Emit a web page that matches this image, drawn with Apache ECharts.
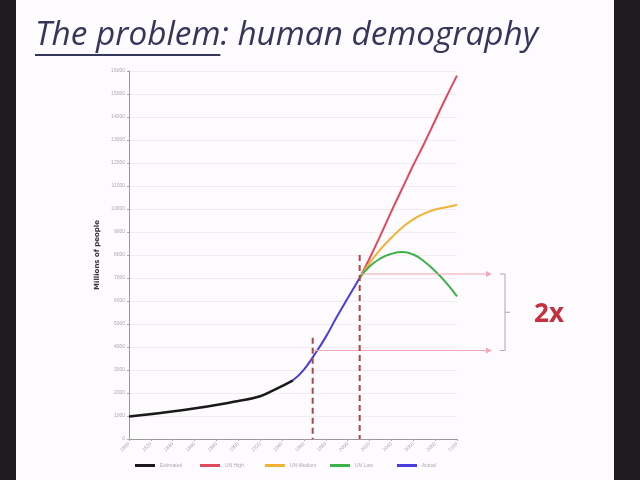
<!DOCTYPE html>
<html><head><meta charset="utf-8">
<script src="https://cdn.jsdelivr.net/npm/echarts@6/dist/echarts.min.js"></script>
<style>html,body{margin:0;padding:0;background:#1e1c1e}#c{width:640px;height:480px}</style>
</head><body><div id="c"></div>
<script>
const titleMain = 'The problem';
const titleRest = ': human demography';
const yAxisName = 'Millions of people';
const legendNames = ['Estimated', 'UN High', 'UN Medium', 'UN Low', 'Actual'];
const estYears = [1800, 1850, 1900, 1920, 1930, 1940, 1950];
const estPop   = [980, 1260, 1650, 1860, 2070, 2300, 2550];
const actYears = [1950, 1960, 1970, 1980, 1990, 2000, 2011];
const actPop   = [2550, 3020, 3690, 4440, 5300, 6120, 7000];
const projYears = [2011, 2020, 2030, 2040, 2050, 2060, 2070, 2080, 2090, 2100];
const highPop = [7000, 7850, 8850, 9900, 10900, 11900, 12850, 13850, 14850, 15800];
const medPop  = [7000, 7650, 8250, 8750, 9200, 9550, 9800, 9980, 10080, 10170];
const lowPop  = [7000, 7500, 7850, 8050, 8130, 8020, 7720, 7300, 6800, 6200];
const markYears = [1968, 2011];
const markPops = [3500, 7000];
const ratioLabel = '2x';

const zip = (xs, ys) => xs.map((x, i) => [x, ys[i]]);
const measure = (txt, font) => { const c = document.createElement('canvas').getContext('2d'); c.font = font; return c.measureText(txt).width; };
const fam = '"Open Sans", sans-serif';
let fs = 32;
const full = measure(titleMain + titleRest, 'italic ' + fs + 'px ' + fam);
fs = Math.round(fs * 503 / full * 10) / 10;
const tfont = 'italic ' + fs + 'px ' + fam;
const wMain = measure(titleMain, tfont);

const chart = echarts.init(document.getElementById('c'), null, {renderer: 'canvas'});
const colors = {Estimated: '#1a1a1a', 'UN High': '#e04a5e', 'UN Medium': '#f0b338', 'UN Low': '#3eb04a', Actual: '#4a3ddc'};
const mk = (name, data, w) => ({name, type: 'line', data, smooth: true, showSymbol: false, symbol: 'none',
  lineStyle: {color: colors[name], width: w}, itemStyle: {color: colors[name]}, z: 3});
const legendLeft = [130, 195, 260, 325, 392];

const option = {
  backgroundColor: '#1e1c1e',
  animation: false,
  grid: {left: 129, right: 183, top: 71, bottom: 41},
  xAxis: {type: 'value', min: 1800, max: 2100, interval: 20,
    axisLine: {lineStyle: {color: '#999', width: 1}}, axisTick: {show: true, length: 2, lineStyle: {color: '#aaa'}},
    axisLabel: {rotate: 45, fontSize: 5, color: '#aaa', margin: 4, formatter: v => String(v)},
    splitLine: {show: false}},
  yAxis: {type: 'value', min: 0, max: 16000, interval: 1000,
    name: yAxisName, nameLocation: 'middle', nameGap: 27,
    nameTextStyle: {fontSize: 7, fontWeight: 'bold', color: '#333', fontFamily: 'DejaVu Sans'},
    axisLine: {show: true, lineStyle: {color: '#999'}}, axisTick: {show: true, length: 2, lineStyle: {color: '#aaa'}},
    axisLabel: {fontSize: 5, color: '#aaa', margin: 4, formatter: v => String(v)},
    splitLine: {show: true, lineStyle: {color: '#f1ecf0'}}},
  legend: legendNames.map((n, i) => ({bottom: 7, left: legendLeft[i], itemWidth: 20, itemHeight: 3,
    icon: 'rect', data: [n], textStyle: {fontSize: 5, color: '#aaa'}})),
  series: [
    mk('Estimated', zip(estYears, estPop), 2.5),
    mk('UN High', zip(projYears, highPop), 2),
    mk('UN Medium', zip(projYears, medPop), 2),
    mk('UN Low', zip(projYears, lowPop), 2),
    mk('Actual', zip(actYears, actPop), 2)
  ]
};
chart.setOption(option);

const P = (x, y) => chart.convertToPixel({gridIndex: 0}, [x, y]);
const p0 = P(markYears[0], markPops[0]);
const p1 = P(markYears[1], markPops[1]);
const base0 = P(markYears[0], 0), base1 = P(markYears[1], 0);
const top0 = P(markYears[0], 4400), top1 = P(markYears[1], 8000);
const arrowEnd = 492, bx = 505;
const dash = {stroke: '#a84848', lineWidth: 2, lineDash: [6, 4]};
const pink = {stroke: '#f2a8b8', lineWidth: 1.2};
const gray = {stroke: '#aaa', lineWidth: 1};
const arrowHead = (x, y) => ({type: 'polygon', shape: {points: [[x, y], [x - 6, y - 3], [x - 6, y + 3]]}, style: {fill: '#f2a8b8'}, z: 10});
const yA = p1[1] - 4, yB = p0[1] - 8, yM = (yA + yB) / 2;

chart.setOption({graphic: [
  {type: 'rect', shape: {x: 16, y: 0, width: 598, height: 480}, style: {fill: '#fdfbfd'}, z: -10, silent: true},
  {type: 'text', x: 35, y: 19, style: {text: titleMain + titleRest, font: tfont, fill: '#35375a'}, z: 10},
  {type: 'line', shape: {x1: 35, y1: 55, x2: 35 + wMain, y2: 55}, style: {stroke: '#35375a', lineWidth: 2}, z: 10},
  {type: 'line', shape: {x1: base0[0], y1: top0[1], x2: base0[0], y2: base0[1]}, style: dash, z: 9},
  {type: 'line', shape: {x1: base1[0], y1: top1[1], x2: base1[0], y2: base1[1]}, style: dash, z: 9},
  {type: 'line', shape: {x1: p1[0], y1: yA, x2: arrowEnd - 5, y2: yA}, style: pink, z: 8},
  arrowHead(arrowEnd, yA),
  {type: 'line', shape: {x1: p0[0], y1: yB, x2: arrowEnd - 5, y2: yB}, style: pink, z: 8},
  arrowHead(arrowEnd, yB),
  {type: 'polyline', shape: {points: [[bx - 5, yA], [bx, yA], [bx, yB], [bx - 5, yB]]}, style: Object.assign({fill: null}, gray), z: 8},
  {type: 'line', shape: {x1: bx, y1: yM, x2: bx + 5, y2: yM}, style: gray, z: 8},
  {type: 'text', x: 549, y: yM + 2, style: {text: ratioLabel, font: 'bold 26px "Open Sans", sans-serif', fill: '#c4303f', align: 'center', verticalAlign: 'middle'}, z: 10}
]});
</script></body></html>
